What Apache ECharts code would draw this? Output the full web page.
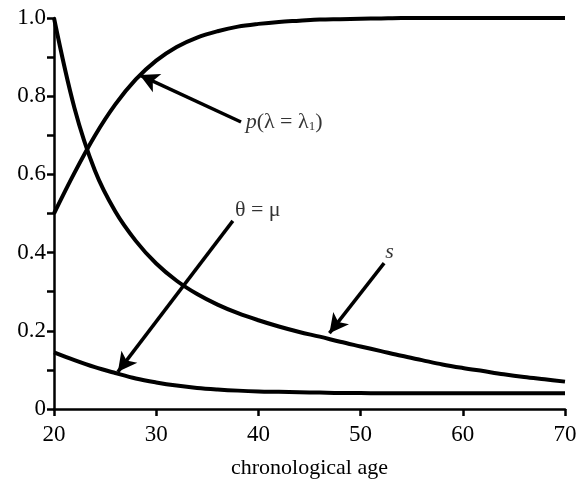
<!DOCTYPE html>
<html>
<head>
<meta charset="utf-8">
<script src="https://cdn.jsdelivr.net/npm/echarts@6/dist/echarts.min.js"></script>
<style>
  html, body { margin: 0; padding: 0; background: #fff; }
  #main { width: 580px; height: 485px; }
</style>
</head>
<body>
<div id="main"></div>
<script>
let myChart = echarts.init(document.getElementById('main'));

// chronological age (x), every 2 years
let ages = [20, 22, 24, 26, 28, 30, 32, 34, 36, 38, 40, 42, 44, 46, 48, 50, 52, 54, 56, 58, 60, 62, 64, 66, 68, 70];
// p(lambda = lambda1), rising curve
let pValues = [0.5, 0.604, 0.699, 0.779, 0.843, 0.891, 0.926, 0.950, 0.966, 0.978, 0.985, 0.990, 0.993, 0.996, 0.997, 0.998, 0.999, 1, 1, 1, 1, 1, 1, 1, 1, 1];
// s, falling curve
let sValues = [1.0, 0.77, 0.61, 0.505, 0.43, 0.372, 0.328, 0.294, 0.267, 0.245, 0.227, 0.211, 0.197, 0.185, 0.172, 0.160, 0.148, 0.136, 0.125, 0.114, 0.105, 0.097, 0.089, 0.082, 0.076, 0.070];
// theta = mu, low curve
let thetaValues = [0.145, 0.125, 0.107, 0.092, 0.078, 0.068, 0.060, 0.054, 0.050, 0.047, 0.045, 0.044, 0.043, 0.042, 0.041, 0.041, 0.040, 0.040, 0.040, 0.040, 0.040, 0.040, 0.040, 0.040, 0.040, 0.040];

// annotations: label text, label anchor, arrow start, arrow tip
let labelTexts = ['{i|p}(λ = λ{sub|1})', 'θ = μ', '{i|s}'];
let labelAt = [[38.75, 0.734], [37.7, 0.508], [52.4, 0.40]];
let arrowFrom = [[38.3, 0.734], [37.5, 0.481], [52.3, 0.373]];
let arrowTo = [[28.4, 0.854], [26.25, 0.095], [46.95, 0.194]];

const serif = 'Liberation Serif';

function pairs(ys) {
    return ages.map((a, i) => [a, ys[i]]);
}

function curve(name, ys) {
    return {
        name: name,
        type: 'line',
        data: pairs(ys),
        smooth: 0.35,
        showSymbol: false,
        lineStyle: { color: '#000', width: 4 },
        z: 3
    };
}

let option = {
    animation: false,
    grid: { left: 54, right: 15, top: 18, bottom: 76 },
    xAxis: {
        type: 'value',
        min: 20,
        max: 70,
        interval: 10,
        name: 'chronological age',
        nameLocation: 'middle',
        nameGap: 48,
        nameTextStyle: { fontFamily: serif, fontSize: 22, color: '#000' },
        axisLine: { lineStyle: { color: '#000', width: 2.5 } },
        axisTick: { inside: false, length: 7, lineStyle: { color: '#000', width: 2.5 } },
        axisLabel: { fontFamily: serif, fontSize: 23, color: '#000', margin: 14 },
        splitLine: { show: false }
    },
    yAxis: {
        type: 'value',
        min: 0,
        max: 1,
        interval: 0.1,
        axisLine: { show: true, lineStyle: { color: '#000', width: 2.5 } },
        axisTick: { show: true, inside: false, length: 7, lineStyle: { color: '#000', width: 2.5 } },
        axisLabel: {
            fontFamily: serif, fontSize: 23, color: '#000', margin: 8,
            formatter: function (v) {
                let k = Math.round(v * 10);
                if (k === 0) return '0';
                return k % 2 === 0 ? (k / 10).toFixed(1) : '';
            }
        },
        splitLine: { show: false }
    },
    series: [
        curve('p', pValues),
        curve('s', sValues),
        curve('theta', thetaValues),
        {
            type: 'scatter',
            symbolSize: 0,
            data: labelAt.map((c, i) => ({ value: c, text: labelTexts[i] })),
            label: {
                show: true,
                position: 'right',
                distance: 0,
                formatter: p => p.data.text,
                fontFamily: serif,
                fontSize: 22,
                color: '#000',
                rich: {
                    i: { fontFamily: serif, fontSize: 22, fontStyle: 'italic', color: '#000' },
                    sub: { fontFamily: serif, fontSize: 13, color: '#000', verticalAlign: 'bottom', padding: [9, 0, 0, 0] }
                }
            },
            markLine: {
                silent: true,
                symbol: ['none', 'arrow'],
                symbolSize: [15, 19],
                label: { show: false },
                lineStyle: { color: '#000', width: 3.5, type: 'solid' },
                data: arrowFrom.map((f, i) => [{ coord: f }, { coord: arrowTo[i] }])
            },
            z: 5
        }
    ]
};

myChart.setOption(option);
</script>
</body>
</html>
